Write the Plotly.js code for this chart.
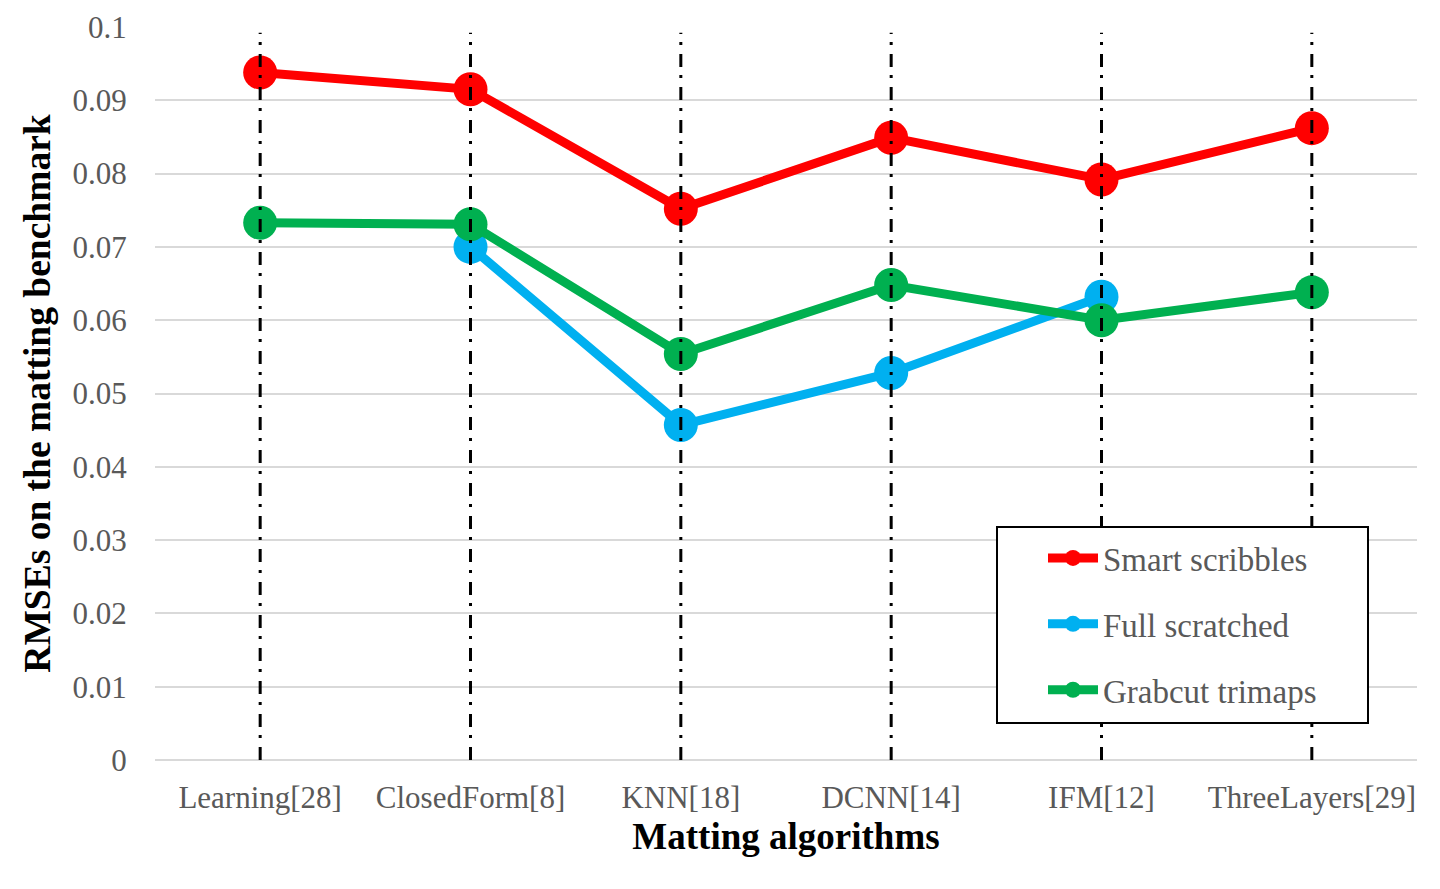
<!DOCTYPE html>
<html>
<head>
<meta charset="utf-8">
<script src="https://cdn.plot.ly/plotly-3.0.1.min.js"></script>
<style>html,body{margin:0;padding:0;background:#fff;}#chart{width:1440px;height:889px;}</style>
</head>
<body>
<div id="chart"></div>
<script>
const categories = ["Learning[28]", "ClosedForm[8]", "KNN[18]", "DCNN[14]", "IFM[12]", "ThreeLayers[29]"];
const smartScribbles = [0.0938, 0.0915, 0.0752, 0.0849, 0.0792, 0.0862];
const fullScratched = [null, 0.0700, 0.0457, 0.0528, 0.0632, null];
const grabcutTrimaps = [0.0733, 0.0731, 0.0554, 0.0648, 0.0600, 0.0638];
const yTicks = [0, 0.01, 0.02, 0.03, 0.04, 0.05, 0.06, 0.07, 0.08, 0.09, 0.1];
const yTickLabels = ["0", "0.01", "0.02", "0.03", "0.04", "0.05", "0.06", "0.07", "0.08", "0.09", "0.1"];

const FONT = "Liberation Serif, Times New Roman, serif";

function series(name, values, color, group) {
  return {
    type: "scatter", mode: "lines+markers", name: name,
    x: categories, y: values,
    line: {color: color, width: 9},
    marker: {color: color, size: 34},
    legendgroup: group,
    connectgaps: false
  };
}

const data = [
  series("Smart scribbles", smartScribbles, "#ff0000", "a"),
  series("Full scratched", fullScratched, "#00b0f0", "b"),
  series("Grabcut trimaps", grabcutTrimaps, "#00b050", "c")
];

const shapes = categories.map(c => ({
  type: "line", xref: "x", yref: "y", x0: c, x1: c, y0: 0, y1: 0.0992,
  line: {color: "#000", width: 3, dash: "13px,9px,3px,8px"},
  layer: "above"
}));
// legend box (drawn behind the transparent legend, above the dash-dot lines)
shapes.push({
  type: "rect", xref: "paper", yref: "paper",
  x0: (997 - 155) / 1262, x1: (1368 - 155) / 1262,
  y0: (760 - 723) / 733, y1: (760 - 527) / 733,
  fillcolor: "#fff", line: {color: "#000", width: 2}, layer: "above"
});

const layout = {
  width: 1440, height: 889,
  margin: {l: 155, r: 23, t: 27, b: 129},
  paper_bgcolor: "#fff", plot_bgcolor: "#fff",
  font: {family: FONT, color: "#595959", size: 31},
  showlegend: true,
  legend: {
    x: (1043 - 155) / 1262, y: (760 - 530) / 733, xanchor: "left", yanchor: "top",
    bgcolor: "rgba(0,0,0,0)", borderwidth: 0,
    font: {family: FONT, size: 33, color: "#595959"},
    tracegroupgap: 20, itemwidth: 50
  },
  xaxis: {
    type: "category", showgrid: false, zeroline: false, showline: false,
    ticks: "outside", ticklen: 10, tickcolor: "rgba(0,0,0,0)",
    tickfont: {family: FONT, size: 31, color: "#595959"},
    title: {text: "Matting algorithms", font: {family: FONT, size: 37, color: "#000", weight: "bold"}, standoff: 8},
    range: [-0.5, 5.5]
  },
  yaxis: {
    range: [0, 0.1], tickvals: yTicks, ticktext: yTickLabels,
    showgrid: true, gridcolor: "#d9d9d9", gridwidth: 2,
    zeroline: true, zerolinecolor: "#d9d9d9", zerolinewidth: 2,
    showline: false,
    ticks: "outside", ticklen: 21, tickcolor: "rgba(0,0,0,0)",
    tickfont: {family: FONT, size: 31, color: "#595959"},
    title: {text: "RMSEs on the matting benchmark", font: {family: FONT, size: 37.5, color: "#000", weight: "bold"}, standoff: 10}
  },
  shapes: shapes
};

Plotly.newPlot("chart", data, layout, {displayModeBar: false, staticPlot: true});
</script>
</body>
</html>
